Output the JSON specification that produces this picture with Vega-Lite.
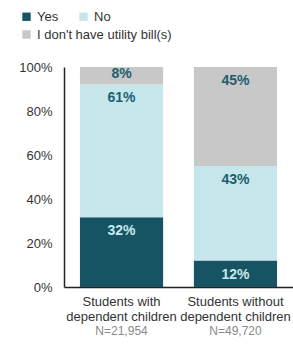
{
  "$schema": "https://vega.github.io/schema/vega-lite/v6.json",
  "width": 229,
  "height": 220,
  "autosize": "none",
  "padding": {"left": 64, "top": 67, "right": 0, "bottom": 58},
  "background": "white",
  "config": {
    "view": {"stroke": null},
    "font": "Liberation Sans",
    "legend": {
      "orient": "none",
      "title": null,
      "direction": "horizontal",
      "symbolType": "square",
      "symbolSize": 70,
      "symbolStrokeWidth": 0,
      "labelFontSize": 13,
      "labelColor": "#333",
      "labelOffset": 4,
      "columnPadding": 18
    }
  },
  "data": {
    "values": [
      {"group": "Students with dependent children", "cat": "Yes", "rank": 1, "value": 32, "label": "32%", "n": "N=21,954"},
      {"group": "Students with dependent children", "cat": "No", "rank": 2, "value": 61, "label": "61%", "n": "N=21,954"},
      {"group": "Students with dependent children", "cat": "I don't have utility bill(s)", "rank": 3, "value": 8, "label": "8%", "n": "N=21,954"},
      {"group": "Students without dependent children", "cat": "Yes", "rank": 1, "value": 12, "label": "12%", "n": "N=49,720"},
      {"group": "Students without dependent children", "cat": "No", "rank": 2, "value": 43, "label": "43%", "n": "N=49,720"},
      {"group": "Students without dependent children", "cat": "I don't have utility bill(s)", "rank": 3, "value": 45, "label": "45%", "n": "N=49,720"}
    ]
  },
  "transform": [
    {"stack": "value", "groupby": ["group"], "sort": [{"field": "rank", "order": "ascending"}], "as": ["y0", "y1"], "offset": "normalize"}
  ],
  "encoding": {
    "x": {
      "field": "group",
      "type": "nominal",
      "title": null,
      "scale": {"paddingInner": 0.27, "paddingOuter": 0.14},
      "axis": {
        "labelAngle": 0,
        "ticks": false,
        "domainColor": "#222",
        "domainWidth": 1.5,
        "labelFontSize": 13,
        "labelColor": "#333",
        "labelPadding": 8,
        "labelLineHeight": 15,
        "labelExpr": "datum.value == 'Students with dependent children' ? ['Students with', 'dependent children'] : ['Students without', 'dependent children']"
      }
    }
  },
  "layer": [
    {
      "transform": [{"filter": "datum.rank < 3"}],
      "mark": {"type": "bar"},
      "encoding": {
        "y": {
          "field": "y0",
          "type": "quantitative",
          "title": null,
          "scale": {"domain": [0, 1]},
          "axis": {
            "values": [0, 0.2, 0.4, 0.6, 0.8, 1],
            "format": ".0%",
            "grid": false,
            "ticks": false,
            "domainColor": "#222",
            "domainWidth": 1.5,
            "labelFontSize": 13,
            "labelColor": "#333",
            "labelPadding": 12
          }
        },
        "y2": {"field": "y1"},
        "color": {
          "field": "cat",
          "type": "nominal",
          "scale": {"domain": ["Yes", "No"], "range": ["#165463", "#c5e7ec"]},
          "legend": {"legendX": -44, "legendY": -57}
        }
      }
    },
    {
      "transform": [{"filter": "datum.rank == 3"}],
      "mark": {"type": "bar"},
      "encoding": {
        "y": {"field": "y0", "type": "quantitative"},
        "y2": {"field": "y1"},
        "fill": {
          "field": "cat",
          "type": "nominal",
          "scale": {"domain": ["I don't have utility bill(s)"], "range": ["#c8c8c8"]},
          "legend": {"legendX": -44, "legendY": -39}
        }
      }
    },
    {
      "transform": [{"filter": "datum.value >= 10"}],
      "mark": {"type": "text", "baseline": "middle", "dy": 14, "fontSize": 14, "fontWeight": "bold"},
      "encoding": {
        "y": {"field": "y1", "type": "quantitative"},
        "text": {"field": "label"},
        "color": {"condition": {"test": "datum.cat == 'Yes'", "value": "#c8e8ee"}, "value": "#1d5f6e"}
      }
    },
    {
      "transform": [{"filter": "datum.value < 10"}],
      "mark": {"type": "text", "baseline": "middle", "dy": 7, "fontSize": 14, "fontWeight": "bold", "color": "#1d5f6e"},
      "encoding": {
        "y": {"field": "y1", "type": "quantitative"},
        "text": {"field": "label"}
      }
    },
    {
      "transform": [{"filter": "datum.cat == 'Yes'"}],
      "mark": {"type": "text", "baseline": "middle", "dy": 44, "fontSize": 12, "color": "#8a8a8a"},
      "encoding": {
        "y": {"datum": 0, "type": "quantitative"},
        "text": {"field": "n"}
      }
    }
  ]
}
